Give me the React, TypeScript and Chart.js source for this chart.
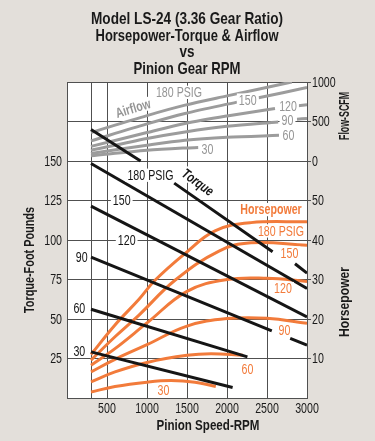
import React, { useEffect, useRef } from 'react';
import { Chart, registerables } from 'chart.js';

Chart.register(...registerables);

const FONT = "'Liberation Sans', Arial, Helvetica, sans-serif";
const SQUEEZE = 0.76;
const BG = '#e3dfda';
const GRID = '#505050';
const BLACK = '#151515';
const TEXT = '#1a1a1a';
const ORANGE = '#f27b3b';
const GRAY = '#9c9c9c';
const GRAY_TEXT = '#959595';

// ---- axes ----
const rpmTicks = [500, 1000, 1500, 2000, 2500, 3000];
const rpmExtraLines = [0, 300];
const torqueTicks = [25, 50, 75, 100, 125, 150];
const torqueExtraLines = [0, 175, 200];
const hpTicks = [10, 20, 30, 40, 50];
const flowTicks = [0, 500, 1000];
const RPM_MAX = 3000;
const TORQUE_MAX = 200;
const HP_MAX = 80;
const FLOW_MIN = -3000;
const FLOW_MAX = 1000;

type P = [number, number] | null;

// ---- torque (ft-lb) vs pinion rpm ----
const torque180: P[] = [[300, 170], [920, 150], null, [1340, 136], [2570, 92.5], null, [2850, 85], [3000, 79]];
const torque150: P[] = [[300, 148.4], [3000, 69.3]];
const torque120: P[] = [[300, 121.4], [3000, 51.3]];
const torque90: P[] = [[300, 89.1], [2560, 42.5], null, [2790, 37.7], [3000, 33.4]];
const torque60: P[] = [[300, 56.2], [2255, 26]];
const torque30: P[] = [[300, 29.2], [2070, 6.6]];

// ---- horsepower ----
const hp180: P[] = [[300, 11], [600, 18.5], [900, 25], [1100, 29.8], [1470, 36.5], [1850, 42.3], [2300, 44.4], [3000, 44.6]];
const hp150: P[] = [[300, 9.6], [600, 15.5], [900, 21], [1350, 29.8], [1900, 37.2], [2300, 39.3], [3000, 38.7]];
const hp120: P[] = [[300, 8.3], [600, 12.5], [1000, 19], [1500, 27], [2000, 30], [2500, 30.3], [3000, 29.5]];
const hp90: P[] = [[300, 6.6], [600, 9.8], [1000, 13.5], [1500, 18.2], [2000, 20.1], [2500, 20.2], [3000, 18.9]];
const hp60: P[] = [[300, 4.1], [600, 6.6], [1000, 9.0], [1500, 10.8], [1800, 11.2], [2200, 10.8]];
const hp30: P[] = [[300, 1.5], [600, 2.9], [1000, 4.0], [1300, 4.4], [1600, 4.0], [1860, 2.9]];

// ---- airflow (SCFM) ----
const flow180: P[] = [[300, 360], [1000, 575], [1475, 707], [2000, 824], [2810, 1000]];
const flow150: P[] = [[300, 255], [1000, 470], [1475, 602], [2125, 745], null, [2395, 800], [3000, 930]];
const flow120: P[] = [[300, 185], [1000, 360], [1475, 475], [2000, 570], [2600, 665], null, [2890, 700], [3000, 711]];
const flow90: P[] = [[300, 135], [1000, 285], [1475, 368], [2000, 440], [2640, 495], null, [2875, 530], [3000, 538]];
const flow60: P[] = [[300, 95], [1000, 200], [1475, 263], [2000, 300], [2650, 325]];
const flow30: P[] = [[300, 65], [1000, 135], [1475, 165], [1640, 170]];

// ---- in-plot labels (anchored in data space) ----
type L = { t: string; x: number; y: number; bold?: boolean; italic?: boolean; rot?: number };
const torqueLabels: L[] = [
  { t: '180 PSIG', x: 1044, y: 141 },
  { t: '150', x: 684, y: 125.5 },
  { t: '120', x: 746, y: 100 },
  { t: '90', x: 184, y: 89.3 },
  { t: '60', x: 154, y: 56.6 },
  { t: '30', x: 154, y: 29.6 },
  { t: 'Torque', x: 1638, y: 136.6, bold: true, italic: true, rot: 36 },
];
const hpLabels: L[] = [
  { t: 'Horsepower', x: 2550, y: 47.7, bold: true },
  { t: '180 PSIG', x: 2675, y: 42.3 },
  { t: '150', x: 2781, y: 36.7 },
  { t: '120', x: 2700, y: 27.7 },
  { t: '90', x: 2719, y: 17.2 },
  { t: '60', x: 2256, y: 7.4 },
  { t: '30', x: 1206, y: 2.0 },
];
const flowLabels: L[] = [
  { t: 'Airflow', x: 825, y: 669, bold: true, rot: -17 },
  { t: '180 PSIG', x: 1400, y: 869 },
  { t: '150', x: 2259, y: 771 },
  { t: '120', x: 2763, y: 694 },
  { t: '90', x: 2756, y: 517 },
  { t: '60', x: 2769, y: 326 },
  { t: '30', x: 1756, y: 149 },
];

const titleLines = ['Model LS-24 (3.36 Gear Ratio)', 'Horsepower-Torque & Airflow', 'vs', 'Pinion Gear RPM'];

function toXY(pts: P[]) {
  return pts.map((p, i) => {
    if (p) return { x: p[0], y: p[1] };
    const a = pts[i - 1] as [number, number];
    const b = pts[i + 1] as [number, number];
    return { x: (a[0] + b[0]) / 2, y: null as any };
  });
}

type TextOpts = {
  color: string;
  size: number;
  bold?: boolean;
  italic?: boolean;
  rot?: number;
  bg?: boolean;
  fitW?: number;
  align?: 'left' | 'right' | 'center';
};

function drawText(ctx: CanvasRenderingContext2D, text: string, x: number, y: number, o: TextOpts) {
  ctx.save();
  ctx.translate(x, y);
  if (o.rot) ctx.rotate((o.rot * Math.PI) / 180);
  ctx.font = `${o.italic ? 'italic ' : ''}${o.bold ? 'bold ' : ''}${o.size}px ${FONT}`;
  ctx.textBaseline = 'middle';
  const w = ctx.measureText(text).width;
  const k = o.fitW ? o.fitW / w : SQUEEZE;
  ctx.scale(k, 1);
  const align = o.align || 'center';
  let left = -w / 2;
  if (align === 'left') left = 0;
  if (align === 'right') left = -w;
  if (o.bg) {
    const h = o.size * 0.95;
    ctx.fillStyle = '#ffffff';
    ctx.fillRect(left - 2 / k, -h / 2, w + 4 / k, h);
  }
  ctx.textAlign = 'left';
  ctx.fillStyle = o.color;
  ctx.fillText(text, left, 1);
  ctx.restore();
}

const bgPlugin = {
  id: 'bgPlugin',
  beforeDraw(chart: any) {
    const { ctx, chartArea: a } = chart;
    ctx.save();
    ctx.fillStyle = BG;
    ctx.fillRect(0, 0, chart.width, chart.height);
    ctx.fillStyle = '#ffffff';
    ctx.fillRect(a.left, a.top, a.right - a.left, a.bottom - a.top);
    ctx.restore();
  },
};

const rightTicks: { value: number; label: string }[] = [
  ...hpTicks.map((h) => ({ value: (h / HP_MAX) * TORQUE_MAX, label: String(h) })),
  ...flowTicks.map((f) => ({
    value: ((f - FLOW_MIN) / (FLOW_MAX - FLOW_MIN)) * TORQUE_MAX,
    label: String(f),
  })),
];

const textPlugin = {
  id: 'textPlugin',
  afterDatasetsDraw(chart: any) {
    const ctx = chart.ctx as CanvasRenderingContext2D;
    const sx = chart.scales.x;
    const groups: [L[], any, string][] = [
      [torqueLabels, chart.scales.y, BLACK],
      [hpLabels, chart.scales.yHp, ORANGE],
      [flowLabels, chart.scales.yFlow, GRAY_TEXT],
    ];
    for (const [labels, sy, color] of groups) {
      for (const l of labels) {
        drawText(ctx, l.t, sx.getPixelForValue(l.x), sy.getPixelForValue(l.y), {
          color,
          size: 14,
          bold: l.bold,
          italic: l.italic,
          rot: l.rot,
          bg: true,
        });
      }
    }
  },
  afterDraw(chart: any) {
    const ctx = chart.ctx as CanvasRenderingContext2D;
    const a = chart.chartArea;
    const sx = chart.scales.x;
    const sy = chart.scales.y;
    const sr = chart.scales.yR;
    // tick labels
    for (const v of rpmTicks) {
      drawText(ctx, String(v), sx.getPixelForValue(v), a.bottom + 10, { color: TEXT, size: 14 });
    }
    for (const v of torqueTicks) {
      drawText(ctx, String(v), a.left - 5, sy.getPixelForValue(v), { color: TEXT, size: 14, align: 'right' });
    }
    for (const t of rightTicks) {
      drawText(ctx, t.label, a.right + 5, sr.getPixelForValue(t.value), { color: TEXT, size: 14, align: 'left' });
    }
    // titles
    const cx = (a.left + a.right) / 2;
    const titleY = [18.5, 35, 51.5, 68];
    const titleW = [192, 183, 15, 107];
    titleLines.forEach((t, i) => {
      drawText(ctx, t, cx, titleY[i], { color: TEXT, size: 17, bold: true, fitW: titleW[i] });
    });
    drawText(ctx, 'Pinion Speed-RPM', 208, 425, { color: TEXT, size: 15, bold: true, fitW: 103 });
    drawText(ctx, 'Torque-Foot Pounds', 29, 260, { color: TEXT, size: 15, bold: true, rot: -90, fitW: 106 });
    drawText(ctx, 'Flow-SCFM', 344, 116, { color: TEXT, size: 15, bold: true, rot: -90, fitW: 48 });
    drawText(ctx, 'Horsepower', 344, 302, { color: TEXT, size: 15, bold: true, rot: -90, fitW: 70 });
  },
};

export default function App() {
  const ref = useRef<HTMLCanvasElement | null>(null);

  useEffect(() => {
    if (!ref.current) return;
    const ds = (pts: P[], color: string, axis: string, tension: number) => ({
      data: toXY(pts),
      borderColor: color,
      backgroundColor: color,
      borderWidth: 3,
      pointRadius: 0,
      tension,
      yAxisID: axis,
      spanGaps: false,
      borderCapStyle: 'butt' as const,
    });

    const chart = new Chart(ref.current, {
      type: 'line',
      data: {
        datasets: [
          ds(torque180, BLACK, 'y', 0),
          ds(torque150, BLACK, 'y', 0),
          ds(torque120, BLACK, 'y', 0),
          ds(torque90, BLACK, 'y', 0),
          ds(torque60, BLACK, 'y', 0),
          ds(torque30, BLACK, 'y', 0),
          ds(hp180, ORANGE, 'yHp', 0.4),
          ds(hp150, ORANGE, 'yHp', 0.4),
          ds(hp120, ORANGE, 'yHp', 0.4),
          ds(hp90, ORANGE, 'yHp', 0.4),
          ds(hp60, ORANGE, 'yHp', 0.4),
          ds(hp30, ORANGE, 'yHp', 0.4),
          ds(flow180, GRAY, 'yFlow', 0.3),
          ds(flow150, GRAY, 'yFlow', 0.3),
          ds(flow120, GRAY, 'yFlow', 0.3),
          ds(flow90, GRAY, 'yFlow', 0.3),
          ds(flow60, GRAY, 'yFlow', 0.3),
          ds(flow30, GRAY, 'yFlow', 0.3),
        ] as any,
      },
      options: {
        animation: false,
        responsive: false,
        devicePixelRatio: 1,
        layout: { padding: { top: 82, left: 0, right: 0, bottom: 0 } },
        plugins: {
          legend: { display: false },
          title: { display: false },
          tooltip: { enabled: false },
        },
        scales: {
          x: {
            type: 'linear',
            min: 0,
            max: RPM_MAX,
            afterBuildTicks: (s: any) => {
              s.ticks = [...rpmExtraLines, ...rpmTicks].sort((p, q) => p - q).map((v) => ({ value: v }));
            },
            afterFit: (s: any) => {
              s.height = 43;
            },
            ticks: { display: false },
            grid: { color: GRID, lineWidth: 1, drawTicks: false },
            border: { color: GRID, width: 1 },
          },
          y: {
            type: 'linear',
            position: 'left',
            min: 0,
            max: TORQUE_MAX,
            afterBuildTicks: (s: any) => {
              s.ticks = [...torqueExtraLines, ...torqueTicks].sort((p, q) => p - q).map((v) => ({ value: v }));
            },
            afterFit: (s: any) => {
              s.width = 67;
            },
            ticks: { display: false },
            grid: { color: GRID, lineWidth: 1, drawTicks: false },
            border: { color: GRID, width: 1 },
          },
          yR: {
            type: 'linear',
            position: 'right',
            min: 0,
            max: TORQUE_MAX,
            afterBuildTicks: (s: any) => {
              s.ticks = rightTicks.map((t) => ({ value: t.value }));
            },
            afterFit: (s: any) => {
              s.width = 68;
            },
            ticks: { display: false },
            grid: { color: GRID, lineWidth: 1, drawOnChartArea: false, tickLength: 4 },
            border: { color: GRID, width: 1 },
          },
          yHp: { type: 'linear', display: false, min: 0, max: HP_MAX },
          yFlow: { type: 'linear', display: false, min: FLOW_MIN, max: FLOW_MAX },
        },
      } as any,
      plugins: [bgPlugin, textPlugin],
    });
    return () => chart.destroy();
  }, []);

  return (
    <div style={{ position: 'fixed', left: 0, top: 0, width: 375, height: 441, background: BG }}>
      <canvas ref={ref} width={375} height={441} style={{ display: 'block', width: 375, height: 441 }} />
    </div>
  );
}
